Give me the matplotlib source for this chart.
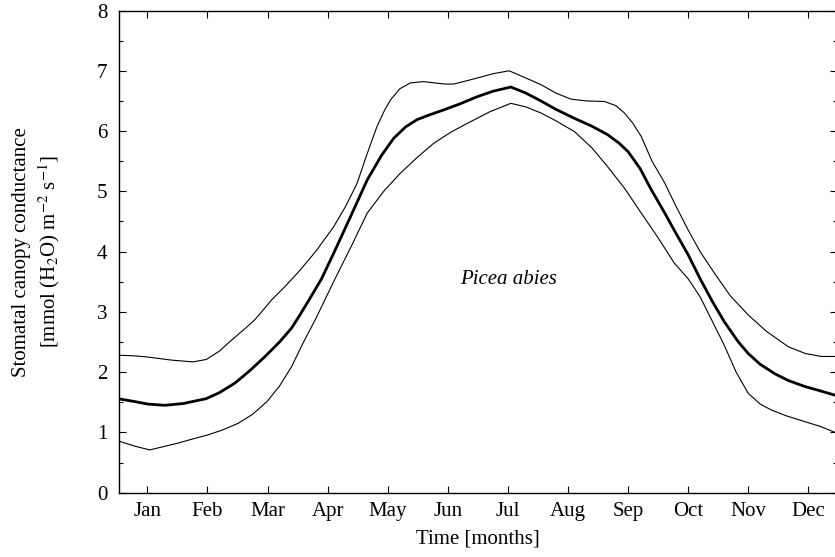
import matplotlib
matplotlib.use("Agg")
import matplotlib.pyplot as plt
from matplotlib.ticker import MultipleLocator

plt.rcParams['font.family'] = ['Liberation Serif', 'DejaVu Serif']
plt.rcParams['mathtext.fontset'] = 'stix'

months = ['Jan', 'Feb', 'Mar', 'Apr', 'May', 'Jun', 'Jul', 'Aug', 'Sep', 'Oct', 'Nov', 'Dec']
month_pos = list(range(1, 13))

# upper envelope
upper_t = [0.54, 0.8, 1.01, 1.4, 1.76, 1.98, 2.2, 2.4, 2.6, 2.79, 3.07, 3.3, 3.54, 3.8,
           4.1, 4.3, 4.49, 4.65, 4.82, 4.95, 5.05, 5.2, 5.38, 5.6, 5.77, 5.95, 6.1, 6.3,
           6.49, 6.75, 7.02, 7.3, 7.55, 7.8, 8.05, 8.3, 8.61, 8.8, 8.94, 9.08, 9.22, 9.4,
           9.61, 9.8, 10.0, 10.2, 10.44, 10.7, 11.0, 11.3, 11.67, 11.95, 12.22, 12.47]
upper_v = [2.28, 2.27, 2.25, 2.20, 2.17, 2.21, 2.35, 2.53, 2.70, 2.87, 3.20, 3.43, 3.69, 4.00,
           4.41, 4.75, 5.13, 5.60, 6.07, 6.35, 6.52, 6.70, 6.80, 6.82, 6.80, 6.78, 6.78, 6.83,
           6.88, 6.95, 7.00, 6.88, 6.77, 6.63, 6.53, 6.50, 6.49, 6.42, 6.30, 6.13, 5.91, 5.50,
           5.14, 4.75, 4.36, 4.00, 3.64, 3.27, 2.95, 2.68, 2.42, 2.31, 2.26, 2.26]

# mean curve
mean_t = [0.54, 0.8, 1.01, 1.29, 1.6, 1.98, 2.2, 2.46, 2.7, 2.96, 3.2, 3.4, 3.54, 3.68,
          3.9, 4.1, 4.4, 4.66, 4.9, 5.1, 5.3, 5.49, 5.7, 5.93, 6.2, 6.49, 6.75, 7.05,
          7.3, 7.55, 7.8, 8.11, 8.4, 8.66, 8.85, 9.0, 9.2, 9.38, 9.6, 9.8, 10.0, 10.2,
          10.4, 10.6, 10.83, 11.0, 11.2, 11.45, 11.67, 11.95, 12.2, 12.47]
mean_v = [1.555, 1.51, 1.47, 1.45, 1.48, 1.56, 1.66, 1.82, 2.02, 2.26, 2.50, 2.73, 2.95, 3.18,
          3.55, 3.97, 4.62, 5.19, 5.60, 5.88, 6.07, 6.19, 6.27, 6.35, 6.45, 6.57, 6.66, 6.73,
          6.63, 6.50, 6.36, 6.21, 6.08, 5.94, 5.80, 5.66, 5.38, 5.04, 4.66, 4.30, 3.95, 3.55,
          3.18, 2.84, 2.51, 2.31, 2.13, 1.97, 1.86, 1.76, 1.69, 1.61]

# lower envelope
lower_t = [0.54, 0.8, 1.04, 1.25, 1.5, 1.75, 2.01, 2.25, 2.51, 2.75, 2.99, 3.2, 3.4, 3.6,
           3.8, 4.1, 4.4, 4.66, 4.95, 5.21, 5.5, 5.77, 6.05, 6.33, 6.7, 7.05, 7.3, 7.55,
           7.8, 8.11, 8.4, 8.66, 8.95, 9.22, 9.5, 9.77, 10.0, 10.2, 10.4, 10.6, 10.8, 11.0,
           11.2, 11.39, 11.65, 11.94, 12.2, 12.47]
lower_v = [0.85, 0.77, 0.71, 0.76, 0.82, 0.89, 0.96, 1.04, 1.15, 1.30, 1.51, 1.77, 2.09, 2.50,
           2.88, 3.50, 4.10, 4.64, 5.02, 5.30, 5.57, 5.80, 5.98, 6.13, 6.32, 6.46, 6.40, 6.30,
           6.17, 5.99, 5.72, 5.41, 5.04, 4.64, 4.23, 3.81, 3.55, 3.25, 2.85, 2.45, 2.00, 1.65,
           1.47, 1.37, 1.27, 1.18, 1.10, 0.99]

fig = plt.figure(figsize=(8.35, 5.57), dpi=100)
W, H = 835, 557
left, right, top, bottom = 118.5, 836.5, 10.5, 492.7
ax = fig.add_axes([left / W, 1 - bottom / H, (right - left) / W, (bottom - top) / H])

ax.plot(upper_t, upper_v, color='black', lw=0.8)
ax.plot(lower_t, lower_v, color='black', lw=0.8)
ax.plot(mean_t, mean_v, color='black', lw=2.0)

ax.set_xlim(0.52, 12.47)
ax.set_ylim(0, 8)
ax.set_xticks(month_pos)
ax.set_xticklabels(months)
ax.yaxis.set_major_locator(MultipleLocator(1))
ax.yaxis.set_minor_locator(MultipleLocator(0.5))
ax.tick_params(axis='both', which='major', direction='in', length=5, width=0.8,
               labelsize=15, top=True, right=True)
ax.tick_params(axis='y', which='minor', direction='in', length=3, width=0.8, right=True)
ax.tick_params(axis='x', pad=7)
ax.tick_params(axis='y', pad=8)
for s in ax.spines.values():
    s.set_linewidth(1.0)

ax.set_xlabel('Time [months]', fontsize=15, labelpad=6)
ax.set_ylabel('Stomatal canopy conductance\n[mmol (H$_2$O) m$^{-2}$ s$^{-1}$]',
              fontsize=15, labelpad=25, linespacing=1.3)

ax.text(7.02, 3.53, 'Picea abies', fontsize=15, style='italic', ha='center', va='center')

fig.savefig('out.png', dpi=100)
